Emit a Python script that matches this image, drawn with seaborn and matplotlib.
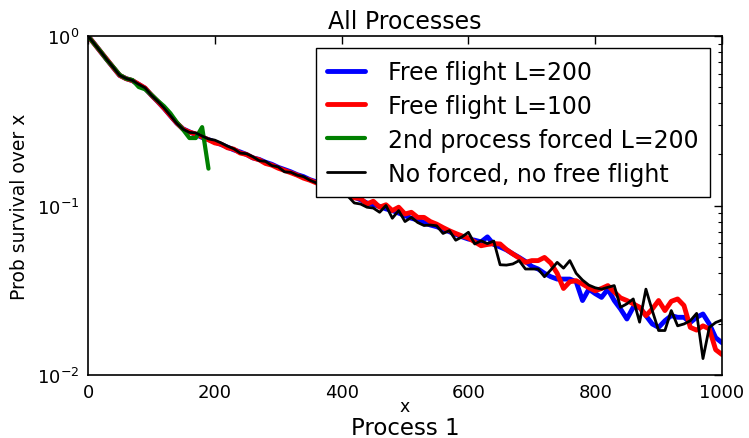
import numpy as np
import pandas as pd
import matplotlib
matplotlib.use("Agg")
import matplotlib.pyplot as plt
import seaborn as sns

# ---- data ----
x_full = list(range(0, 1001, 10))
x_green = list(range(0, 191, 10))

free_flight_200 = [
    1.000, 0.900, 0.806, 0.724, 0.650, 0.585, 0.561, 0.545, 0.518, 0.492,
    0.447, 0.410, 0.374, 0.338, 0.306, 0.283, 0.272, 0.262, 0.252, 0.245,
    0.237, 0.229, 0.221, 0.213, 0.207, 0.200, 0.191, 0.187, 0.180, 0.175,
    0.168, 0.163, 0.158, 0.152, 0.148, 0.142, 0.138, 0.133, 0.129, 0.124,
    0.120, 0.115, 0.112, 0.108, 0.1035, 0.101, 0.0989, 0.0955, 0.0933, 0.0902,
    0.0871, 0.0841, 0.0822, 0.0794, 0.0767, 0.0750, 0.0724, 0.0700, 0.0676, 0.0653,
    0.0634, 0.0624, 0.0610, 0.0653, 0.0589, 0.0569, 0.0547, 0.0519, 0.0494, 0.0468,
    0.0437, 0.0422, 0.0398, 0.0380, 0.0368, 0.0368, 0.0368, 0.0355, 0.0275, 0.0321,
    0.0302, 0.0287, 0.0321, 0.0275, 0.0245, 0.0214, 0.0251, 0.0251, 0.0224, 0.0200,
    0.0191, 0.0209, 0.0224, 0.0219, 0.0219, 0.0204, 0.0219, 0.0229, 0.0200, 0.0166,
    0.0155,
]

free_flight_100 = [
    1.000, 0.899, 0.807, 0.725, 0.651, 0.586, 0.560, 0.546, 0.519, 0.493,
    0.448, 0.411, 0.375, 0.339, 0.307, 0.282, 0.271, 0.264, 0.254, 0.244,
    0.234, 0.230, 0.219, 0.215, 0.204, 0.200, 0.191, 0.186, 0.177, 0.173,
    0.166, 0.161, 0.156, 0.151, 0.145, 0.141, 0.136, 0.132, 0.127, 0.123,
    0.119, 0.116, 0.111, 0.110, 0.102, 0.106, 0.0977, 0.101, 0.0933, 0.0977,
    0.0891, 0.0912, 0.0851, 0.0851, 0.0804, 0.0776, 0.0741, 0.0710, 0.0684, 0.0661,
    0.0643, 0.0610, 0.0579, 0.0589, 0.0596, 0.0593, 0.0550, 0.0518, 0.0490, 0.0462,
    0.0473, 0.0473, 0.0494, 0.0457, 0.0398, 0.0324, 0.0355, 0.0360, 0.0344, 0.0327,
    0.0314, 0.0324, 0.0337, 0.0309, 0.0285, 0.0275, 0.0263, 0.0251, 0.0224, 0.0245,
    0.0275, 0.0240, 0.0272, 0.0281, 0.0257, 0.0191, 0.0184, 0.0195, 0.0187, 0.0141,
    0.0132,
]

forced_2nd_200 = [
    1.000, 0.898, 0.810, 0.720, 0.655, 0.590, 0.560, 0.550, 0.500, 0.485,
    0.450, 0.415, 0.385, 0.350, 0.310, 0.280, 0.250, 0.250, 0.290, 0.165,
]

no_forced = [
    1.000, 0.900, 0.807, 0.724, 0.652, 0.586, 0.562, 0.547, 0.519, 0.495,
    0.447, 0.412, 0.376, 0.339, 0.305, 0.282, 0.270, 0.268, 0.257, 0.247,
    0.243, 0.234, 0.224, 0.216, 0.204, 0.202, 0.194, 0.184, 0.182, 0.172,
    0.169, 0.158, 0.157, 0.151, 0.148, 0.141, 0.136, 0.132, 0.129, 0.124,
    0.119, 0.1135, 0.1035, 0.102, 0.0977, 0.0966, 0.0912, 0.1000, 0.0841, 0.0933,
    0.0804, 0.0851, 0.0794, 0.0762, 0.0767, 0.0759, 0.0684, 0.0711, 0.0624, 0.0653,
    0.0695, 0.0593, 0.0619, 0.0596, 0.0617, 0.0447, 0.0445, 0.0452, 0.0473, 0.0422,
    0.0422, 0.0422, 0.0380, 0.0417, 0.0462, 0.0427, 0.0473, 0.0398, 0.0363, 0.0339,
    0.0327, 0.0321, 0.0329, 0.0337, 0.0251, 0.0263, 0.0281, 0.0205, 0.0321, 0.0240,
    0.0183, 0.0183, 0.0240, 0.0195, 0.0200, 0.0209, 0.0231, 0.0125, 0.0191, 0.0204,
    0.0211,
]

labels = ["Free flight L=200", "Free flight L=100",
          "2nd process forced L=200", "No forced, no free flight"]
colors = ["blue", "red", "green", "black"]
widths = [3.5, 3.5, 3.0, 2.0]

x_ticks = [0, 200, 400, 600, 800, 1000]

# ---- style ----
sns.set_style("white")
plt.rcParams["font.family"] = ["DejaVu Sans"]
plt.rcParams["xtick.direction"] = "in"
plt.rcParams["ytick.direction"] = "in"
plt.rcParams["mathtext.default"] = "regular"
plt.rcParams["text.color"] = "black"
plt.rcParams["axes.labelcolor"] = "black"
plt.rcParams["xtick.color"] = "black"
plt.rcParams["ytick.color"] = "black"

fig = plt.figure(figsize=(7.49, 4.39), dpi=100, facecolor="white")
ax = fig.add_axes([88 / 749, 1 - 376 / 439, (722 - 88) / 749, (376 - 37) / 439])

series = [(x_full, free_flight_200), (x_full, free_flight_100),
          (x_green, forced_2nd_200), (x_full, no_forced)]
for (xs, ys), lab, col, lw in zip(series, labels, colors, widths):
    df = pd.DataFrame({"x": xs, "y": ys})
    sns.lineplot(data=df, x="x", y="y", ax=ax, color=col, linewidth=lw,
                 label=lab, estimator=None, sort=False)

ax.set_yscale("log")
ax.set_xlim(0, 1000)
ax.set_ylim(0.01, 1.0)
ax.set_xticks(x_ticks)
ax.set_xticklabels([str(t) for t in x_ticks])

for s in ax.spines.values():
    s.set_color("black")
    s.set_linewidth(1.2)
    s.set_visible(True)

ax.tick_params(which="both", direction="in", top=True, right=True,
               colors="black", labelcolor="black", labelsize=13)
ax.tick_params(which="major", length=6, width=1, pad=6)
ax.tick_params(which="minor", length=3, width=0.8)
ax.tick_params(axis="x", which="minor", top=False, bottom=False)

ax.set_title("All Processes", fontsize=17, pad=6, color="black")
ax.set_ylabel("Prob survival over x", fontsize=13.5, labelpad=6, color="black")
ax.set_xlabel("x", fontsize=12.5, labelpad=-3, color="black")
fig.text(405 / 749, 1 - 435 / 439, "Process 1", fontsize=16.5,
         ha="center", va="baseline", color="black")

leg = ax.legend(loc="upper right", bbox_to_anchor=((710 - 88) / 634, (376 - 49) / 339),
                borderaxespad=0, fontsize=17, frameon=True, fancybox=False,
                framealpha=1, edgecolor="black", handlelength=1.6,
                handletextpad=0.95, labelspacing=0.42, borderpad=0.5)
leg.get_frame().set_linewidth(1.0)
leg.set_zorder(10)
for t in leg.get_texts():
    t.set_color("black")

fig.savefig("out.png", dpi=100, facecolor="white")
